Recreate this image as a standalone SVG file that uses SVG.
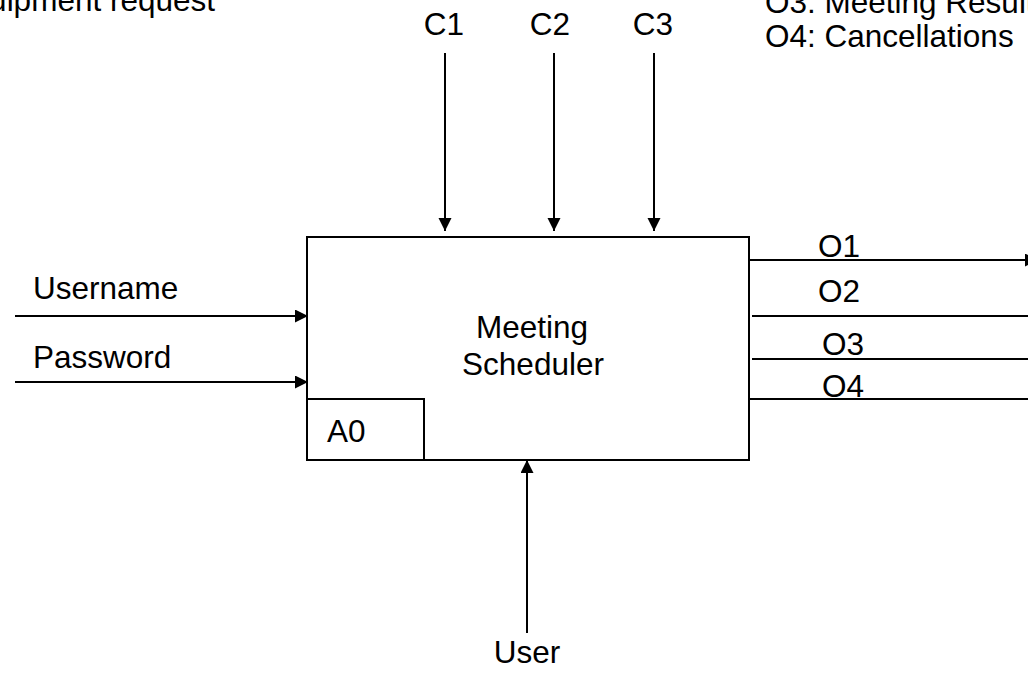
<svg xmlns="http://www.w3.org/2000/svg" width="1028" height="676" viewBox="0 0 1028 676">
<style>
text{font-family:"Liberation Sans",Arial,sans-serif;font-size:31.5px;fill:#000}
.ln{stroke:#000;stroke-width:2;fill:none}
.box{stroke:#000;stroke-width:2;fill:#fff}
.m{text-anchor:middle}
</style>
<defs>
<marker id="ah" markerUnits="userSpaceOnUse" markerWidth="14" markerHeight="14" viewBox="0 0 14 14" refX="13" refY="6.5" orient="auto">
<path d="M0,0 L13,6.5 L0,13 z" fill="#000"/>
</marker>
</defs>
<rect width="1028" height="676" fill="#fff"/>
<g id="legend">
<text x="215" y="11" text-anchor="end">Equipment request</text>
<text x="765" y="13">O3: Meeting Results</text>
<text x="765" y="47">O4: Cancellations</text>
</g>
<g id="connectors">
<line class="ln" x1="445" y1="53" x2="445" y2="231" marker-end="url(#ah)"/>
<line class="ln" x1="554" y1="53" x2="554" y2="231" marker-end="url(#ah)"/>
<line class="ln" x1="654" y1="53" x2="654" y2="231" marker-end="url(#ah)"/>
<line class="ln" x1="15" y1="316" x2="308" y2="316" marker-end="url(#ah)"/>
<line class="ln" x1="15" y1="382" x2="308" y2="382" marker-end="url(#ah)"/>
<line class="ln" x1="750" y1="260" x2="1038" y2="260" marker-end="url(#ah)"/>
<line class="ln" x1="752" y1="316" x2="1028" y2="316"/>
<line class="ln" x1="752" y1="359" x2="1028" y2="359"/>
<line class="ln" x1="750" y1="399" x2="1041" y2="399" marker-end="url(#ah)"/>
<line class="ln" x1="527" y1="633" x2="527" y2="460" marker-end="url(#ah)"/>
<text x="444" y="35" class="m">C1</text>
<text x="550" y="35" class="m">C2</text>
<text x="653" y="35" class="m">C3</text>
<text x="33" y="299">Username</text>
<text x="33" y="368">Password</text>
<text x="818" y="257">O1</text>
<text x="818" y="302">O2</text>
<text x="822" y="355">O3</text>
<text x="822" y="397">O4</text>
<text x="527" y="663" class="m">User</text>
</g>
<g id="A0">
<rect class="box" x="307" y="237" width="442" height="223"/>
<text x="532" y="338" class="m">Meeting</text>
<text x="533" y="375" class="m">Scheduler</text>
<rect class="ln" x="307" y="399" width="117" height="61"/>
<text x="327" y="442">A0</text>
</g>
</svg>
